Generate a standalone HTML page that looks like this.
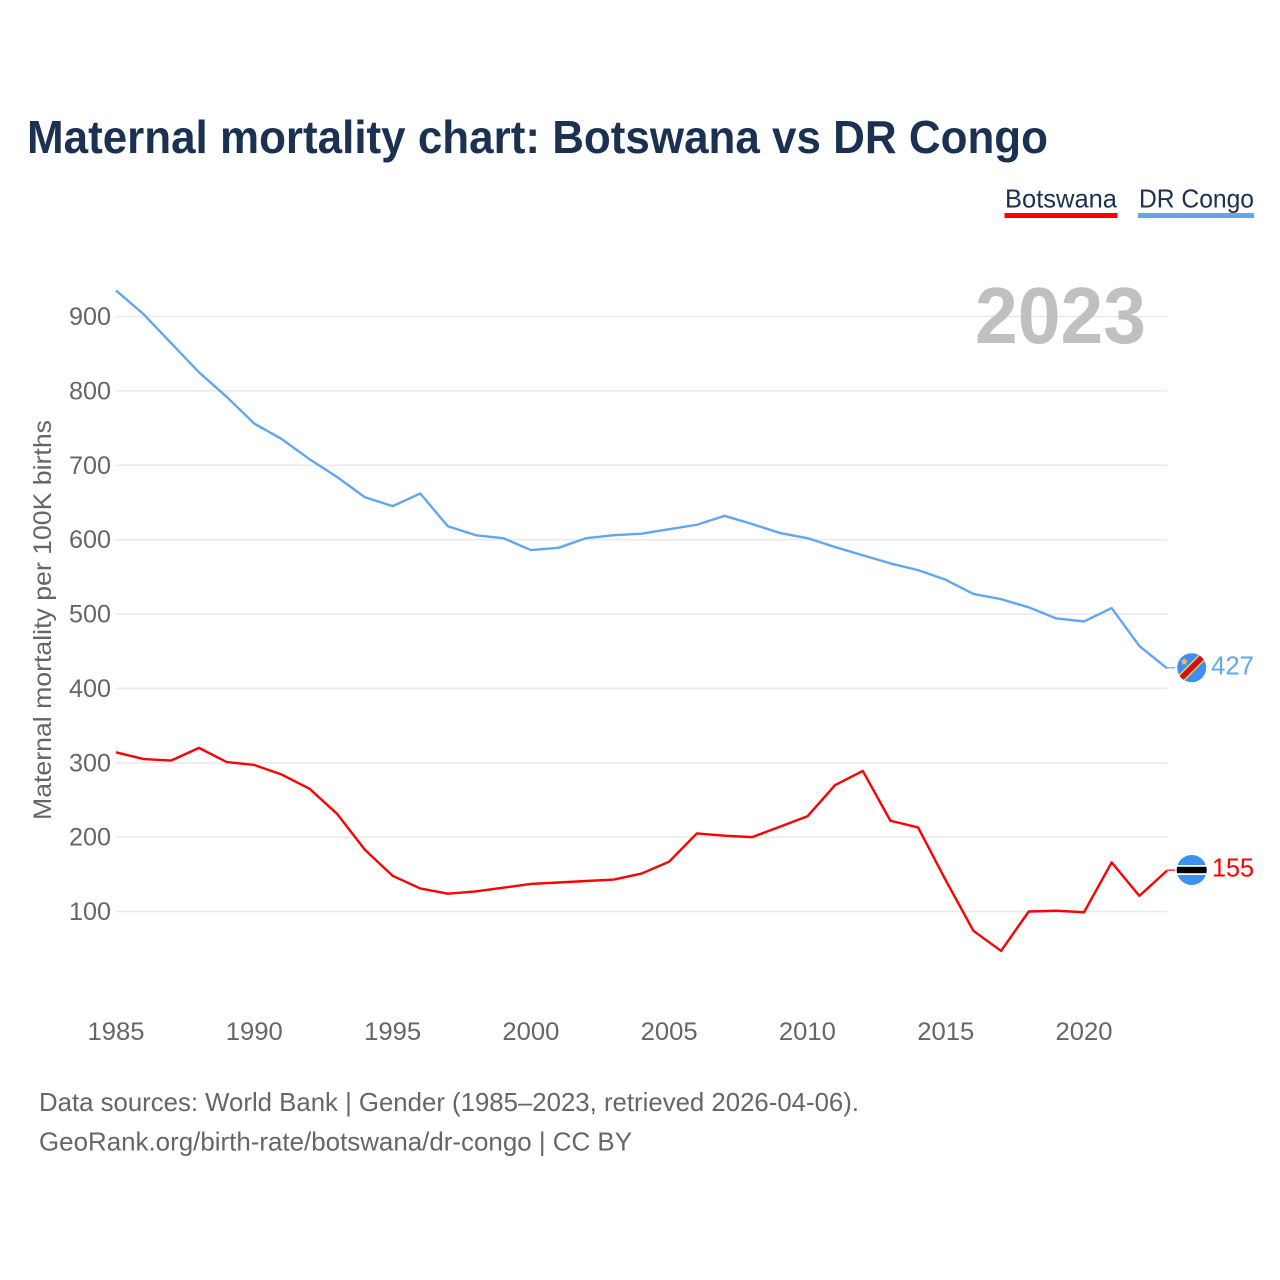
<!DOCTYPE html>
<html lang="en">
<head>
<meta charset="utf-8">
<title>Maternal mortality chart: Botswana vs DR Congo</title>
<style>
html,body{margin:0;padding:0;background:#fff;width:1280px;height:1280px;overflow:hidden}
svg{display:block}
text{font-family:"Liberation Sans",sans-serif}
</style>
</head>
<body>
<svg id="chart" width="1280" height="1280" viewBox="0 0 1280 1280" xmlns="http://www.w3.org/2000/svg">
  <text x="27" y="153" font-size="46" font-weight="700" fill="#1a3151" textLength="1021" lengthAdjust="spacingAndGlyphs">Maternal mortality chart: Botswana vs DR Congo</text>

  <g>
    <g>
      <text x="1005" y="207.5" font-size="26" fill="#1a3151" textLength="112" lengthAdjust="spacingAndGlyphs">Botswana</text>
      <rect x="1004.5" y="213" width="113" height="5" fill="#ff0000"/>
    </g>
    <g>
      <text x="1139" y="207.5" font-size="26" fill="#1a3151" textLength="115" lengthAdjust="spacingAndGlyphs">DR Congo</text>
      <rect x="1138" y="213" width="116" height="5" fill="#62a6ef"/>
    </g>
  </g>

  <g id="grid"></g>

  <text x="975" y="343" font-size="80" font-weight="700" fill="#c0c0c0" textLength="171" lengthAdjust="spacingAndGlyphs">2023</text>

  <g id="yticks"></g>
  <g id="xticks"></g>

  <text transform="translate(51,820) rotate(-90)" x="0" y="0" font-size="25" fill="#666666" textLength="400" lengthAdjust="spacingAndGlyphs">Maternal mortality per 100K births</text>

  <g id="series"></g>

  <defs>
    <clipPath id="clip-drc"><circle cx="0" cy="0" r="14.5"/></clipPath>
    <clipPath id="clip-bwa"><circle cx="0" cy="0" r="15"/></clipPath>
  </defs>

  <g id="flag-drc">
    <g clip-path="url(#clip-drc)">
      <rect x="-16" y="-16" width="32" height="32" fill="#3d8ff2"/>
      <line x1="-18" y1="18" x2="18" y2="-18" stroke="#f7d04a" stroke-width="8.5"/>
      <line x1="-18" y1="18" x2="18" y2="-18" stroke="#ce1021" stroke-width="5.5"/>
      <polygon points="-7.5,-10 -6.4,-7.4 -3.6,-7.2 -5.8,-5.4 -5,-2.6 -7.5,-4.1 -10,-2.6 -9.2,-5.4 -11.4,-7.2 -8.6,-7.4" fill="#f4c24a"/>
    </g>
  </g>

  <g id="flag-bwa">
    <g clip-path="url(#clip-bwa)">
      <rect x="-16" y="-16" width="32" height="32" fill="#3d8ff2"/>
      <rect x="-16" y="-5" width="32" height="10" fill="#ffffff"/>
      <rect x="-16" y="-3.2" width="32" height="6.4" fill="#000000"/>
    </g>
  </g>

  <text id="label-drc" x="1211" font-size="25.5" fill="#62a6ef" textLength="43" lengthAdjust="spacingAndGlyphs"></text>
  <text id="label-bwa" x="1212" font-size="25.5" fill="#ff0000" textLength="42" lengthAdjust="spacingAndGlyphs"></text>

  <text x="39" y="1111" font-size="26" fill="#666666" textLength="820" lengthAdjust="spacingAndGlyphs">Data sources: World Bank | Gender (1985–2023, retrieved 2026-04-06).</text>
  <text x="39" y="1150.5" font-size="26" fill="#666666" textLength="593" lengthAdjust="spacingAndGlyphs">GeoRank.org/birth-rate/botswana/dr-congo | CC BY</text>
</svg>
<script>
const years = [1985,1986,1987,1988,1989,1990,1991,1992,1993,1994,1995,1996,1997,1998,1999,2000,2001,2002,2003,2004,2005,2006,2007,2008,2009,2010,2011,2012,2013,2014,2015,2016,2017,2018,2019,2020,2021,2022,2023];
const drCongo = [935,903,864,825,792,756,735,708,684,657,645,662,618,606,602,586,589,602,606,608,614,620,632,621,609,602,590,579,568,559,546,527,520,509,494,490,508,457,427];
const botswana = [314,305,303,320,301,297,284,265,231,183,148,131,124,127,132,137,139,141,143,151,167,205,202,200,214,228,270,289,222,213,142,74,47,100,101,99,166,121,155];
const xTickLabels = [1985,1990,1995,2000,2005,2010,2015,2020];
const yTickLabels = [100,200,300,400,500,600,700,800,900];

const NS = 'http://www.w3.org/2000/svg';
const xLeft = 116, xRight = 1167;
function xScale(year) {
  return xLeft + (year - 1985) * (xRight - xLeft) / (2023 - 1985);
}
function yScale(value) {
  return 911.5 - (value - 100) * 0.74375;
}
function make(tag, attrs, parent) {
  const el = document.createElementNS(NS, tag);
  Object.keys(attrs).forEach(function (k) { el.setAttribute(k, attrs[k]); });
  parent.appendChild(el);
  return el;
}

const grid = document.getElementById('grid');
const yTicks = document.getElementById('yticks');
const xTicks = document.getElementById('xticks');
const seriesGroup = document.getElementById('series');

yTickLabels.forEach(function (v) {
  const line = make('line', {x1: xLeft, x2: xRight, y1: yScale(v), y2: yScale(v), stroke: '#e9e9e9', 'stroke-width': 1.5}, grid);
  
  
  const t = make('text', {x: 69, y: yScale(v) + 8.5, 'font-size': 25, fill: '#666666', textLength: 42, lengthAdjust: 'spacingAndGlyphs'}, yTicks);
  
  
  t.textContent = v;
});

xTickLabels.forEach(function (yr) {
  const t = make('text', {x: xScale(yr), y: 1040, 'text-anchor': 'middle', 'font-size': 25, fill: '#666666', textLength: 57, lengthAdjust: 'spacingAndGlyphs'}, xTicks);
  
  
  t.textContent = yr;
});

function drawSeries(values, color, lineName, connectorName) {
  const pts = values.map(function (v, i) { return xScale(years[i]).toFixed(2) + ',' + yScale(v).toFixed(2); }).join(' ');
  const line = make('polyline', {points: pts, fill: 'none', stroke: color, 'stroke-width': 2.4, 'stroke-linejoin': 'round'}, seriesGroup);
  
  
  const lastY = yScale(values[values.length - 1]);
  const conn = make('line', {x1: xRight, x2: 1175, y1: lastY - 0.5, y2: lastY - 0.5, stroke: color, 'stroke-width': 1.2}, seriesGroup);
  
  
}
drawSeries(drCongo, '#62a6ef', 'dr-congo-line', 'dr-congo-connector');
drawSeries(botswana, '#ff0000', 'botswana-line', 'botswana-connector');

function placeEnd(values, flagId, labelId) {
  const last = values[values.length - 1];
  const y = yScale(last);
  document.getElementById(flagId).setAttribute('transform', 'translate(1191.7,' + (y - 0.6).toFixed(2) + ')');
  const label = document.getElementById(labelId);
  label.setAttribute('y', (y + 6).toFixed(2));
  label.textContent = last;
}
placeEnd(drCongo, 'flag-drc', 'label-drc');
placeEnd(botswana, 'flag-bwa', 'label-bwa');
</script>
</body>
</html>
